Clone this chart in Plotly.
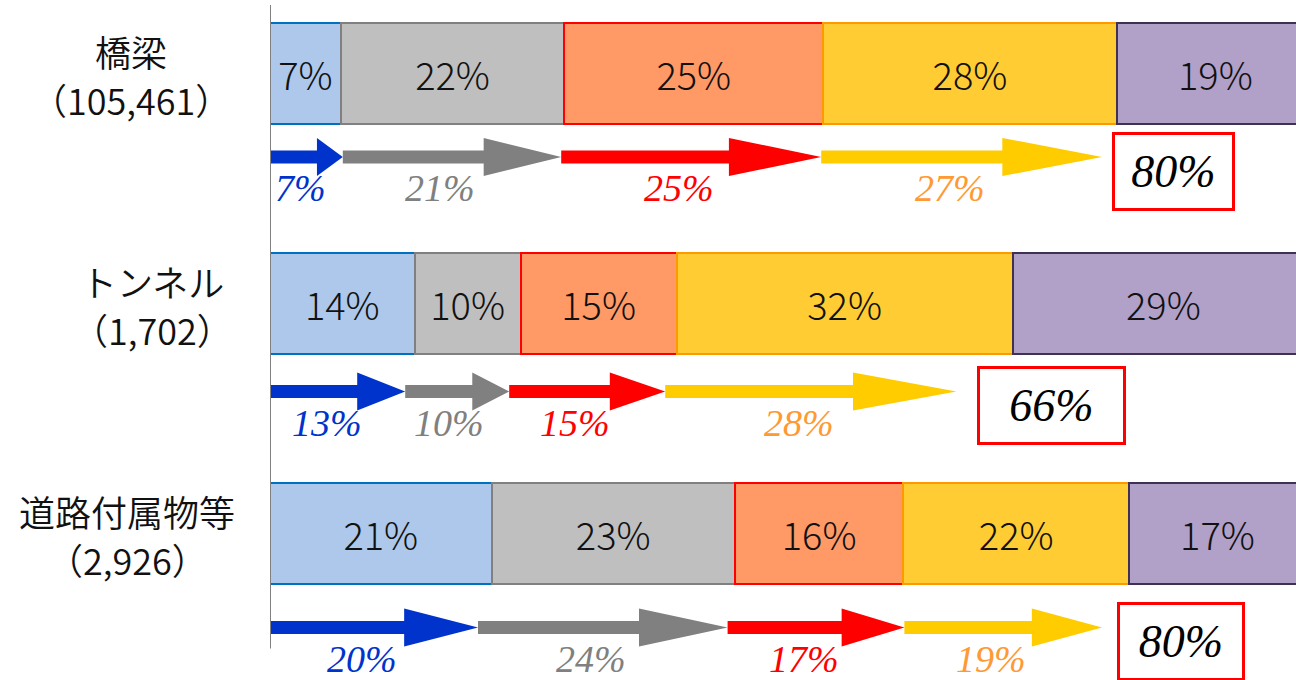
import plotly.graph_objects as go

# ---------------- data ----------------
categories = ["橋梁", "トンネル", "道路付属物等"]
counts = ["105,461", "1,702", "2,926"]

# stacked bar shares (%) (labels are rounded)
bar_s1 = [6.8, 13.9, 21.3]
bar_s2 = [21.5, 10.2, 23.4]
bar_s3 = [24.9, 15.0, 16.2]
bar_s4 = [28.2, 32.3, 21.7]
bar_s5 = [19.0, 29.0, 17.0]

# arrow transitions (%)
arrow_blue = [7, 13, 20]
arrow_gray = [21, 10, 24]
arrow_red = [25, 15, 17]
arrow_yellow = [27, 28, 19]

# ---------------- style ----------------
bar_fill = ["#ADC8EB", "#BFBFBF", "#FF9966", "#FFCC33", "#B1A0C7"]
bar_edge = ["#0070C0", "#808080", "#FF0000", "#FF9900", "#3F3151"]
arrow_col = ["#0033CC", "#808080", "#FF0000", "#FFCC00"]
label_col = ["#0033CC", "#808080", "#FF0000", "#FF9933"]
box_w = [121, 147, 126]
box_gap = [10, 21, 15]
arrow_off_px = [83.5, 88.0, 94.0]
cat_x_px = [131, 152, 127]

W, H = 1296, 680
L_MARGIN = 270
PX_PER_UNIT_X = 10.4
PX_PER_ROW = 230.0
ROW0_PX = 73.5
x_max = (W - L_MARGIN) / PX_PER_UNIT_X
y_top = -ROW0_PX / PX_PER_ROW
y_bot = (H - ROW0_PX) / PX_PER_ROW

SHAFT = 6.5 / PX_PER_ROW
HEAD = 19.0 / PX_PER_ROW
HEAD_FRAC = 0.355

ypos = list(range(len(categories)))

fig = go.Figure()

bar_series = [bar_s1, bar_s2, bar_s3, bar_s4, bar_s5]
for i, vals in enumerate(bar_series):
    fig.add_trace(go.Bar(
        x=vals, y=ypos, orientation="h", width=0.44,
        marker=dict(color=bar_fill[i], line=dict(color=bar_edge[i], width=2)),
        text=[f"{int(v + 0.5)}%" for v in vals], textposition="inside",
        insidetextanchor="middle", textangle=0,
        textfont=dict(family="Noto Sans CJK JP", size=38, color="#111111", weight=300),
        hoverinfo="skip", showlegend=False,
    ))

arrow_series = [arrow_blue, arrow_gray, arrow_red, arrow_yellow]
annotations = []
serif = "Liberation Serif, DejaVu Serif"
for r in range(len(categories)):
    yc = ypos[r] + arrow_off_px[r] / PX_PER_ROW
    x0 = 0.0
    for k, series in enumerate(arrow_series):
        L = series[r]
        h = HEAD_FRAC * L
        xs = [x0, x0 + L - h, x0 + L - h, x0 + L, x0 + L - h, x0 + L - h, x0, x0]
        ys = [yc - SHAFT, yc - SHAFT, yc - HEAD, yc, yc + HEAD, yc + SHAFT, yc + SHAFT, yc - SHAFT]
        fig.add_trace(go.Scatter(
            x=xs, y=ys, mode="lines", fill="toself", fillcolor=arrow_col[k],
            line=dict(width=0, color=arrow_col[k]), hoverinfo="skip", showlegend=False,
        ))
        annotations.append(dict(
            x=x0 + L / 2, y=yc, xref="x", yref="y", text=f"{L}%", showarrow=False,
            xshift=-min(12, 0.08 * L * PX_PER_UNIT_X), yshift=-31,
            font=dict(family=serif, size=38, color=label_col[k], style="italic"),
        ))
        x0 += L
    total = sum(s[r] for s in arrow_series)
    annotations.append(dict(
        x=x0, y=yc, xref="x", yref="y", text=f"{total}%", showarrow=False,
        xanchor="left", yanchor="middle", xshift=box_gap[r], yshift=-14,
        width=box_w[r] - 4, height=73, borderpad=0, borderwidth=3,
        bordercolor="#FF0000", bgcolor="#FFFFFF",
        font=dict(family=serif, size=46, color="#000000", style="italic"),
    ))
    # category labels (left of the axis)
    px = (cat_x_px[r] - L_MARGIN) / (W - L_MARGIN)
    annotations.append(dict(
        x=px, y=ypos[r], xref="paper", yref="y", text=categories[r], showarrow=False,
        yshift=23, xanchor="center", yanchor="middle",
        font=dict(family="Noto Sans CJK JP", size=36, color="#111111", weight=350),
    ))
    annotations.append(dict(
        x=px, y=ypos[r], xref="paper", yref="y", text=f"（{counts[r]}）", showarrow=False,
        yshift=-25, xanchor="center", yanchor="middle",
        font=dict(family="Noto Sans CJK JP", size=36, color="#111111", weight=350),
    ))

fig.add_shape(type="line", xref="x", yref="y", x0=0, x1=0,
              y0=y_top + 5 / PX_PER_ROW, y1=ypos[-1] + 0.5,
              line=dict(color="#808080", width=2))

fig.update_layout(
    width=W, height=H, barmode="stack",
    margin=dict(l=L_MARGIN, r=0, t=0, b=0),
    paper_bgcolor="#FFFFFF", plot_bgcolor="#FFFFFF",
    xaxis=dict(range=[0, x_max], visible=False, fixedrange=True),
    yaxis=dict(range=[y_bot, y_top], visible=False, fixedrange=True),
    annotations=annotations, showlegend=False,
)

fig.write_html("out.html", config={"displayModeBar": False},
               post_script="document.body.style.margin='0';")
